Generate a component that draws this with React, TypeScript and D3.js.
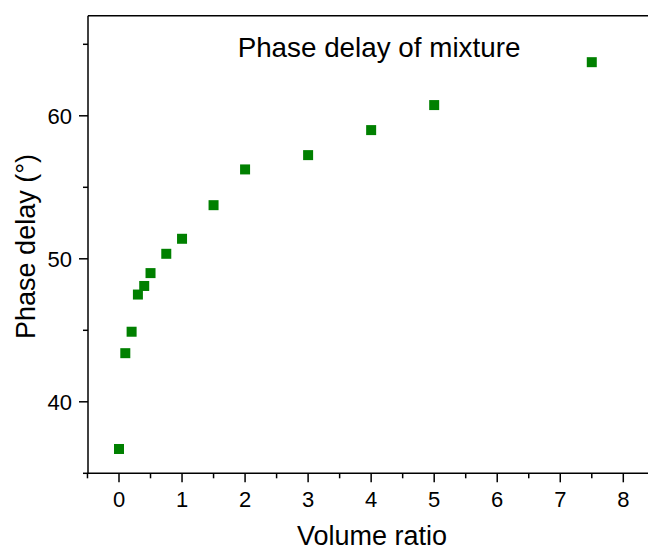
import React from "react";
import * as d3 from "d3";

const volumeRatio = [0, 0.1, 0.2, 0.3, 0.4, 0.5, 0.75, 1, 1.5, 2, 3, 4, 5, 7.5];
const phaseDelay = [36.7, 43.4, 44.9, 47.5, 48.1, 49.0, 50.35, 51.4, 53.75, 56.25, 57.25, 59.0, 60.75, 63.75];
const xMajorTicks = [0, 1, 2, 3, 4, 5, 6, 7, 8];
const xMinorTicks = [-0.5, 0.5, 1.5, 2.5, 3.5, 4.5, 5.5, 6.5, 7.5];
const yMajorTicks = [40, 50, 60];
const yMinorTicks = [35, 45, 55, 65];

const W = 648;
const H = 551;
const left = 88;
const top = 15.7;
const bottom = 473.3;
const font = "'Liberation Sans', Arial, sans-serif";

export default function App() {
  const x = d3.scaleLinear().domain([0, 8]).range([119, 623.3]);
  const y = d3.scaleLinear().domain([35, 67]).range([bottom, top]);
  const right = x(8.5);
  const sq = 10;
  return (
    <svg width={W} height={H} style={{ position: "absolute", left: 0, top: 0 }} fontFamily={font}>
      <rect x={0} y={0} width={W} height={H} fill="#fff" />
      <line x1={left} x2={right} y1={top} y2={top} stroke="#000" strokeWidth={1.5} />
      <line x1={right} x2={right} y1={top} y2={bottom} stroke="#000" strokeWidth={1.5} />
      <line x1={left} x2={right} y1={bottom} y2={bottom} stroke="#000" strokeWidth={1.5} />
      <line x1={left} x2={left} y1={top} y2={bottom} stroke="#000" strokeWidth={1.5} />
      {xMajorTicks.map((t) => (
        <g key={"xm" + t}>
          <line x1={x(t)} x2={x(t)} y1={bottom} y2={bottom + 9} stroke="#000" strokeWidth={1.5} />
          <text x={x(t)} y={506.5} fontSize={22} textAnchor="middle" fill="#000">{t}</text>
        </g>
      ))}
      {xMinorTicks.map((t) => (
        <line key={"xn" + t} x1={x(t)} x2={x(t)} y1={bottom} y2={bottom + 5} stroke="#000" strokeWidth={1.5} />
      ))}
      {yMajorTicks.map((t) => (
        <g key={"ym" + t}>
          <line x1={left - 9} x2={left} y1={y(t)} y2={y(t)} stroke="#000" strokeWidth={1.5} />
          <text x={72} y={y(t) + 7.9} fontSize={22} textAnchor="end" fill="#000">{t}</text>
        </g>
      ))}
      {yMinorTicks.map((t) => (
        <line key={"yn" + t} x1={left - 5} x2={left} y1={y(t)} y2={y(t)} stroke="#000" strokeWidth={1.5} />
      ))}
      {volumeRatio.map((v, i) => (
        <rect key={"p" + i} x={x(v) - sq / 2} y={y(phaseDelay[i]) - sq / 2} width={sq} height={sq} fill="#008000" />
      ))}
      <text x={379} y={57} fontSize={27.8} textAnchor="middle" fill="#000">Phase delay of mixture</text>
      <text x={372} y={545} fontSize={27} textAnchor="middle" fill="#000">Volume ratio</text>
      <text transform={`translate(35,246.5) rotate(-90)`} fontSize={27} textAnchor="middle" fill="#000">Phase delay (°)</text>
    </svg>
  );
}
